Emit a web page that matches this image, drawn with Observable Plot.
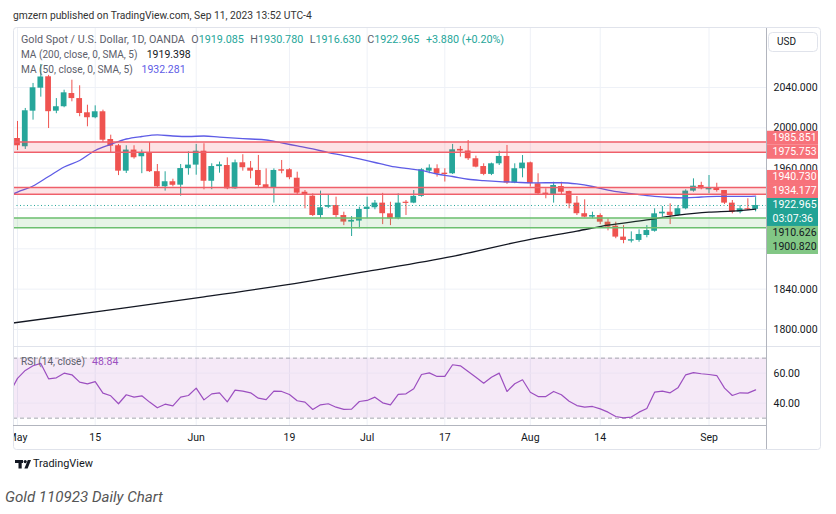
<!DOCTYPE html>
<html><head><meta charset="utf-8">
<script src="https://cdn.jsdelivr.net/npm/d3@7"></script>
<script src="https://cdn.jsdelivr.net/npm/@observablehq/plot@0.6"></script>
<style>
body{margin:0;background:#fff;}
#root{position:relative;width:836px;height:514px;overflow:hidden;background:#fff;font-family:Roboto,"Open Sans",sans-serif;}
#root svg{max-width:none !important;}
</style></head><body><div id="root"></div>
<script>
// ---------- DATA (daily bars, May 1 – Sep 11 2023, index 0..95) ----------
const opens  = [1989.4,1981.2,2016.5,2039.3,2050.6,2016.5,2020.9,2034.0,2029.0,2014.9,2010.0,2015.9,1988.4,1982.2,1957.0,1977.9,1971.3,1974.6,1956.5,1941.5,1946.5,1943.1,1959.5,1963.0,1976.8,1947.0,1961.5,1962.6,1939.5,1965.3,1960.0,1957.7,1943.5,1940.6,1958.4,1958.4,1950.0,1936.1,1932.2,1913.0,1921.2,1922.9,1913.0,1906.5,1907.5,1919.0,1920.7,1925.3,1914.7,1909.8,1926.2,1925.3,1932.0,1957.0,1959.4,1955.0,1954.4,1978.6,1977.0,1969.3,1961.6,1953.8,1964.3,1971.6,1945.2,1959.4,1965.3,1944.5,1935.2,1933.9,1941.8,1936.8,1925.3,1914.8,1911.4,1913.0,1906.4,1902.4,1891.6,1887.6,1888.3,1893.2,1897.4,1914.7,1916.3,1913.0,1919.7,1937.2,1942.8,1938.5,1940.1,1937.8,1925.3,1916.4,1919.7,1919.085];
const highs  = [2006.3,2019.2,2044.0,2062.8,2052.0,2029.0,2037.3,2047.2,2041.7,2022.4,2021.8,2017.5,1992.7,1983.5,1982.2,1982.2,1977.9,1985.4,1963.6,1956.4,1949.0,1963.6,1976.2,1983.5,1984.2,1964.3,1966.0,1970.2,1968.0,1973.3,1966.6,1972.6,1959.3,1959.3,1967.6,1959.4,1956.0,1937.8,1934.5,1937.2,1932.9,1931.2,1916.3,1912.0,1921.3,1931.2,1927.9,1935.0,1926.2,1934.5,1927.9,1937.8,1959.4,1963.3,1963.3,1959.4,1983.5,1981.5,1987.4,1971.9,1964.3,1965.0,1976.8,1982.5,1964.3,1972.5,1966.0,1954.4,1939.5,1946.0,1946.0,1937.2,1931.9,1928.6,1916.3,1914.7,1909.8,1906.4,1903.0,1896.8,1898.8,1903.0,1919.7,1921.9,1924.6,1922.9,1938.5,1949.4,1946.0,1952.7,1945.0,1937.8,1927.9,1922.9,1929.6,1930.780];
const lows   = [1977.5,1978.5,2007.6,2030.4,1999.3,2014.0,2019.9,2025.8,2011.0,2001.0,2009.0,1985.4,1975.2,1952.6,1954.7,1968.9,1954.5,1955.7,1940.5,1937.2,1941.5,1932.2,1953.0,1953.0,1938.5,1938.6,1955.0,1938.6,1939.0,1957.0,1949.4,1941.1,1939.6,1925.3,1954.4,1948.5,1932.9,1919.7,1912.0,1909.8,1920.0,1910.8,1903.0,1892.2,1899.9,1909.8,1918.7,1904.0,1903.0,1908.8,1913.0,1924.7,1931.2,1954.4,1951.1,1946.2,1953.7,1970.9,1967.6,1960.3,1952.5,1952.6,1962.6,1943.9,1944.6,1950.4,1941.2,1933.9,1929.6,1925.3,1932.9,1919.7,1913.0,1910.8,1909.8,1904.0,1897.8,1890.0,1885.0,1885.8,1886.5,1890.9,1896.5,1911.4,1904.0,1912.0,1918.7,1936.2,1938.5,1934.5,1936.2,1924.0,1914.7,1914.7,1918.0,1916.630];
const closes = [1982.2,2016.9,2039.7,2050.4,2016.0,2020.9,2034.7,2029.0,2014.2,2010.0,2015.9,1987.7,1981.8,1957.0,1977.9,1970.3,1974.6,1956.5,1941.5,1946.5,1943.0,1959.6,1963.0,1976.8,1947.0,1961.6,1963.3,1939.5,1965.3,1960.4,1957.0,1942.8,1940.6,1957.7,1957.0,1950.5,1935.2,1932.9,1913.0,1920.7,1922.9,1913.0,1906.5,1908.2,1919.0,1921.3,1925.3,1914.8,1909.8,1925.3,1925.0,1932.0,1958.4,1960.0,1954.4,1953.7,1978.2,1977.0,1969.3,1961.0,1953.8,1964.3,1971.6,1945.2,1959.4,1965.0,1944.6,1934.5,1933.9,1942.8,1936.1,1924.6,1914.8,1911.4,1913.0,1906.4,1901.5,1891.6,1888.3,1889.0,1894.2,1898.1,1914.7,1916.3,1913.0,1919.7,1937.2,1942.1,1939.5,1940.1,1937.8,1925.3,1916.3,1919.7,1918.7,1922.965];

// RSI(14) for bar index -1 .. 95
const rsiValues = [47.0,56.5,61.8,64.9,66.5,56.2,56.9,60.0,58.9,54.0,52.9,54.4,46.7,44.9,39.6,45.6,44.0,44.9,40.7,36.9,39.3,38.2,44.0,45.1,50.0,42.2,46.2,46.9,40.9,48.7,48.0,46.9,43.3,42.4,48.0,47.8,45.8,41.6,40.7,35.8,38.9,39.6,37.3,35.8,36.0,41.1,41.8,44.0,40.2,38.9,45.8,46.2,49.6,59.1,60.2,57.8,57.8,65.6,64.9,61.1,57.3,53.3,57.3,60.0,47.8,52.9,55.6,47.3,44.4,44.4,47.8,45.6,41.3,38.4,37.3,37.8,36.2,34.0,31.1,30.2,30.7,34.0,36.4,47.3,48.0,46.9,50.2,58.9,60.4,59.6,59.1,58.4,50.0,45.1,46.9,46.7,48.84];

const ma50Index  = [-1,0,2,4,6,8,10,12,14,16,18,20,22,24,26,28,30,32,34,36,38,40,42,44,46,48,50,52,54,56,58,60,62,64,66,68,70,72,74,76,78,80,82,84,86,88,90,92,94,95];
const ma50Values = [1932.9,1936.3,1942.3,1951.7,1961.1,1967.6,1977.5,1983.5,1988.9,1991.4,1992.9,1991.9,1991.4,1991.9,1990.7,1989.7,1988.9,1987.9,1985.0,1982.0,1979.0,1975.5,1972.5,1969.1,1965.6,1962.1,1959.8,1957.7,1954.2,1951.7,1949.0,1947.7,1946.7,1946.1,1945.3,1945.5,1945.5,1944.3,1941.8,1938.3,1935.8,1933.8,1931.9,1930.9,1930.6,1931.4,1931.9,1931.9,1931.9,1932.281];

const ma200Index  = [-1,11,24,37,45,56,66,72,76,81,85,89,92,95];
const ma200Values = [1806.0,1818.5,1832.3,1847.2,1857.6,1872.5,1889.4,1897.6,1903.4,1908.6,1913.3,1916.4,1917.4,1919.398];

const timeTickIndex  = [0,10,23,35,45,55,66,75,89];
const timeTickLabels = ["May","15","Jun","19","Jul","17","Aug","14","Sep"];
const priceTicks = [2040,2000,1960,1840,1800];
const priceGrid  = [2040,2000,1960,1920,1880,1840,1800];
const rsiTicks = [60,40];
const rsiBand = [30,70];

const resistanceZones = [[1975.753,1985.851],[1934.177,1940.730]];
const supportZones    = [[1900.820,1910.626]];
const lastPrice = 1922.965;
const countdown = "03:07:36";
const changeText = "+3.880 (+0.20%)";

// ---------- COLORS ----------
const UP="#26a69a", DOWN="#ef5350", MA50C="#5e5ce6", RSIC="#9c4fc0";
const FONT="Roboto, 'Open Sans', sans-serif";
const PSTYLE={background:"transparent", color:"#131722", fontFamily:FONT, fontSize:"10.5px", overflow:"visible", maxWidth:"none"};

const candles = opens.map((o,i)=>({i,o,h:highs[i],l:lows[i],c:closes[i]}));
const upC = candles.filter(d=>d.c>=d.o), downC = candles.filter(d=>d.c<d.o);
const ma50 = ma50Index.map((i,k)=>({i,v:ma50Values[k]}));
const ma200 = ma200Index.map((i,k)=>({i,v:ma200Values[k]}));
const rsi = rsiValues.map((v,k)=>({i:k-1,v}));
const zones = [
  ...resistanceZones.map(([lo,hi])=>({lo,hi,kind:"r"})),
  ...supportZones.map(([lo,hi])=>({lo,hi,kind:"s"}))
];
const edges = zones.flatMap(z=>[{v:z.lo,kind:z.kind},{v:z.hi,kind:z.kind}]);
const XD=[-0.515,96.4];

const main = Plot.plot({
  width:836, height:346, marginLeft:13, marginRight:70, marginTop:28, marginBottom:0,
  style:PSTYLE,
  x:{domain:XD, axis:null},
  y:{domain:[1783.1,2098.5], axis:"right", ticks:priceTicks, tickSize:0, tickPadding:7, tickFormat:d=>d.toFixed(3), label:null},
  marks:[
    Plot.ruleX(timeTickIndex,{stroke:"#eef1f7"}),
    Plot.ruleY(priceGrid,{stroke:"#eef1f7"}),
    Plot.ruleX(upC,{x:"i",y1:"l",y2:"h",stroke:UP,strokeWidth:1}),
    Plot.ruleX(downC,{x:"i",y1:"l",y2:"h",stroke:DOWN,strokeWidth:1}),
    Plot.rect(upC,{x1:d=>d.i-0.37,x2:d=>d.i+0.37,y1:"o",y2:"c",fill:UP}),
    Plot.rect(downC,{x1:d=>d.i-0.37,x2:d=>d.i+0.37,y1:"o",y2:"c",fill:DOWN}),
    Plot.line(ma200,{x:"i",y:"v",stroke:"#131722",strokeWidth:1.3,curve:"monotone-x",clip:true}),
    Plot.line(ma50,{x:"i",y:"v",stroke:MA50C,strokeWidth:1.3,curve:"monotone-x",clip:true}),
    Plot.rect(zones,{y1:"lo",y2:"hi",fill:d=>d.kind==="r"?"#f23645":"#4caf50",fillOpacity:0.14}),
    Plot.ruleY(edges.filter(d=>d.kind==="r"),{y:"v",stroke:"#ef5f6a",strokeWidth:1.5}),
    Plot.ruleY(edges.filter(d=>d.kind==="s"),{y:"v",stroke:"#6cbf6f",strokeWidth:1.5}),
    Plot.ruleY([lastPrice],{stroke:UP,strokeDasharray:"1,2.5",strokeWidth:1})
  ]
});

const rsiPlot = Plot.plot({
  width:836, height:104, marginLeft:13, marginRight:70, marginTop:1, marginBottom:25,
  style:PSTYLE,
  x:{domain:XD, axis:"bottom", ticks:timeTickIndex, tickFormat:d=>timeTickLabels[timeTickIndex.indexOf(d)], tickSize:0, tickPadding:8, label:null},
  y:{domain:[25.1,77.1], axis:"right", ticks:rsiTicks, tickSize:0, tickPadding:7, tickFormat:d=>d.toFixed(2), label:null},
  marks:[
    Plot.ruleX(timeTickIndex,{stroke:"#eef1f7"}),
    Plot.rect([{lo:rsiBand[0],hi:rsiBand[1]}],{y1:"lo",y2:"hi",fill:"#9c27b0",fillOpacity:0.1}),
    Plot.ruleY(rsiTicks,{stroke:"#ece4f3"}),
    Plot.ruleY(rsiBand,{stroke:"#a4a6ae",strokeDasharray:"4,3",strokeWidth:1}),
    Plot.line(rsi,{x:"i",y:"v",stroke:RSIC,strokeWidth:1.2,clip:true})
  ]
});

// ---------- LAYOUT ----------
const root = d3.select("#root");
const wrap = root.append("div").style("position","absolute").style("left","13px").style("top","0px")
  .style("width","807px").style("height","514px").style("overflow","hidden");
d3.select(main).style("position","absolute").style("left","-13px").style("top","0px").style("width","836px").style("max-width","none");
d3.select(rsiPlot).style("position","absolute").style("left","-13px").style("top","346px").style("width","836px").style("max-width","none");
wrap.node().appendChild(main);
wrap.node().appendChild(rsiPlot);

const ov = root.append("svg").attr("width",836).attr("height",514)
  .style("position","absolute").style("left","0px").style("top","0px").style("pointer-events","none")
  .attr("font-family",FONT);

function txt(g,x,y,s,o={}){
  const t=g.append("text").attr("x",x).attr("y",y).text(s)
    .attr("font-size",o.size||10.5).attr("fill",o.fill||"#131722")
    .attr("font-weight",o.weight||null).attr("font-style",o.style||null)
    .attr("text-anchor",o.anchor||"start").attr("dominant-baseline",o.base||"middle");
  if(o.fit){const L=t.node().getComputedTextLength(); if(L>0) t.attr("font-size",(o.size||10.5)*o.fit/L);}
  return t;
}

// frame & separators
ov.append("rect").attr("x",13.5).attr("y",27.5).attr("width",807).attr("height",422).attr("rx",3)
  .attr("fill","none").attr("stroke","#e0e3eb");
ov.append("line").attr("x1",13).attr("x2",820).attr("y1",346.5).attr("y2",346.5).attr("stroke","#e0e3eb");
ov.append("line").attr("x1",13).attr("x2",766).attr("y1",425.5).attr("y2",425.5).attr("stroke","#b2b5be");
ov.append("line").attr("x1",766.5).attr("x2",766.5).attr("y1",28).attr("y2",449).attr("stroke","#b2b5be");

// USD box
ov.append("rect").attr("x",768.5).attr("y",32.5).attr("width",49).attr("height",19).attr("rx",4)
  .attr("fill","#fff").attr("stroke","#e0e3eb");
txt(ov,777,42,"USD",{size:10});

// header
txt(ov,13,16,"gmzern published on TradingView.com, Sep 11, 2023 13:52 UTC-4",{size:11,fill:"#333",fit:299});

// legend line 1 (title + OHLC), fitted to its width in the reference
const GRAY="#5d606b";
{
  const t=txt(ov,21,40,"",{size:10.5,fill:GRAY});
  t.append("tspan").text("Gold Spot / U.S. Dollar, 1D, OANDA");
  const ohlc=[["O",opens[95]],["H",highs[95]],["L",lows[95]],["C",closes[95]]];
  ohlc.forEach(([k,v])=>{
    t.append("tspan").attr("dx","0.6em").text(k);
    t.append("tspan").attr("fill",UP).text(v.toFixed(3));
  });
  t.append("tspan").attr("dx","0.6em").attr("fill",UP).text(changeText);
  const L=t.node().getComputedTextLength(); t.attr("font-size",10.5*451/L);
}
txt(ov,21,55,"MA (200, close, 0, SMA, 5)",{size:10.5,fill:GRAY,fit:116.6});
txt(ov,146.7,55,ma200Values[ma200Values.length-1].toFixed(3),{size:10.5,fill:"#131722"});
txt(ov,21,70,"MA (50, close, 0, SMA, 5)",{size:10.5,fill:GRAY,fit:112});
txt(ov,141.5,70,ma50Values[ma50Values.length-1].toFixed(3),{size:10.5,fill:MA50C});
txt(ov,21,362,"RSI (14, close)",{size:10.5,fill:GRAY,fit:64});
txt(ov,92,362,rsiValues[rsiValues.length-1].toFixed(2),{size:10.5,fill:RSIC});

// price labels on the axis: last-price label stays at its price, others are pushed away from it
const yS = main.scale("y");
const LH = 14;
const anchor = {v:lastPrice,lines:[lastPrice.toFixed(3),countdown],bg:"#22a395",fg:"#fff"};
anchor.y = yS.apply(anchor.v); anchor.h = LH*2; anchor.top = anchor.y - LH/2;
const others = [
  ...resistanceZones.flat().map(v=>({v,lines:[v.toFixed(3)],bg:"#f7727a",fg:"#fff"})),
  ...supportZones.flat().map(v=>({v,lines:[v.toFixed(3)],bg:"#82c785",fg:"#131722"}))
].map(d=>({...d,y:yS.apply(d.v),h:LH}));
const above = others.filter(d=>d.y<anchor.y).sort((a,b)=>b.y-a.y);
const below = others.filter(d=>d.y>=anchor.y).sort((a,b)=>a.y-b.y);
let lim = anchor.top;
above.forEach(d=>{d.top=Math.min(d.y-d.h/2, lim-d.h); lim=d.top;});
lim = anchor.top+anchor.h;
below.forEach(d=>{d.top=Math.max(d.y-d.h/2, lim); lim=d.top+d.h;});
[...above, anchor, ...below].forEach(it=>{
  ov.append("rect").attr("x",767).attr("y",it.top).attr("width",51).attr("height",it.h).attr("fill",it.bg);
  it.lines.forEach((s,k)=>txt(ov,772.5,it.top+LH*k+LH/2+0.5,s,{size:10.5,fill:it.fg}));
});

// footer logo + caption
const lg=ov.append("g").attr("fill","#131722");
lg.append("rect").attr("x",15).attr("y",460).attr("width",8).attr("height",3);
lg.append("rect").attr("x",18.5).attr("y",460).attr("width",3.2).attr("height",8.5);
lg.append("circle").attr("cx",25.2).attr("cy",461.6).attr("r",1.6);
lg.append("path").attr("d","M27.8 460 L31 460 L27.6 468.5 L24.4 468.5 Z");
txt(ov,33,464.5,"TradingView",{size:11.5,fill:"#131722",fit:60});
txt(ov,5,498,"Gold 110923 Daily Chart",{size:14.5,fill:"#555",style:"italic",fit:158});
</script></body></html>
